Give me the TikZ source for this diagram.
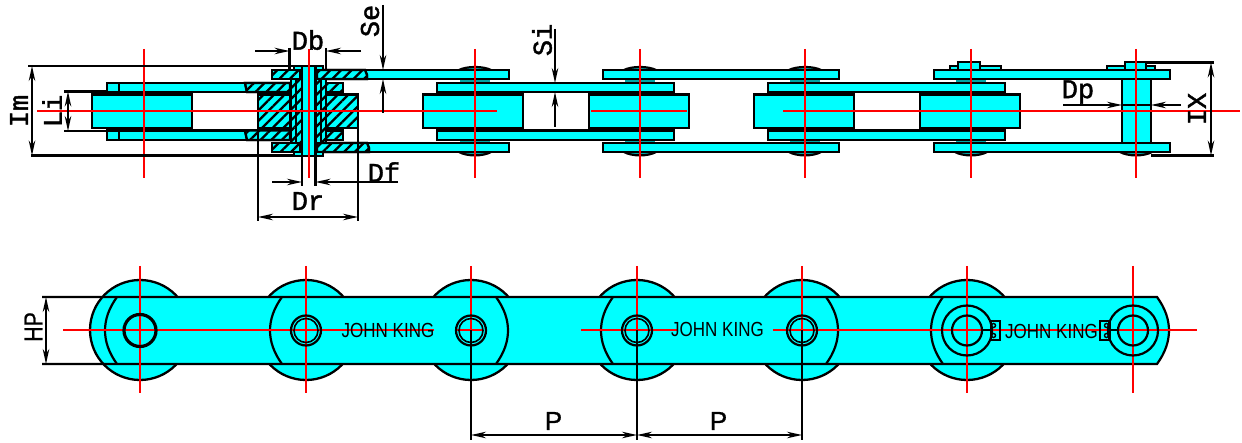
\documentclass[tikz,border=0pt]{standalone}
\usepackage{fontspec}
\setmainfont{Liberation Sans}[FakeBold=0.8]
\newfontfamily\dimfont{Liberation Mono}[FakeBold=1.5]
\newfontfamily\brandfont{Liberation Sans}
\usetikzlibrary{arrows.meta,patterns.meta}
\definecolor{pincol}{RGB}{0,165,165}
\definecolor{chain}{RGB}{0,255,255}
\tikzset{
  part/.style={draw=black,line width=2.3pt,fill=chain},
  hatch/.style={pattern={Lines[angle=45,distance=7.5pt,line width=2.3pt]},pattern color=black},
  hatched/.style={draw=black,line width=2.3pt,postaction={fill=chain},postaction={hatch},postaction={draw=black,line width=2.3pt}},
  axis/.style={draw=red,line width=2.6pt},
  ln/.style={draw=black,line width=2.2pt},
  dimarrow/.style={draw=black,line width=1.8pt,-{Stealth[length=15pt,width=6.5pt]}},
  dimboth/.style={draw=black,line width=1.8pt,{Stealth[length=15pt,width=6.5pt]}-{Stealth[length=15pt,width=6.5pt]}},
  dimtext/.style={font=\dimfont\fontsize{27}{27}\selectfont,inner sep=0pt},
  sanstext/.style={font=\fontsize{26}{26}\selectfont,inner sep=0pt},
  brand/.style={font=\brandfont\fontsize{17}{17}\selectfont,inner sep=0pt},
}
\begin{document}
\begin{tikzpicture}[x=1pt,y=-1pt]
\useasboundingbox (0,0) rectangle (1242,443);
% ---------- TOP VIEW ----------
% pin stubs and heads
\foreach \c in {475,640,805,971}{
  \fill[pincol] (\c-15,79) rectangle (\c+15,83);
  \fill[pincol] (\c-15,140) rectangle (\c+15,143);
  \fill[pincol] (\c-15,92) rectangle (\c+15,95);
  \fill[pincol] (\c-15,128) rectangle (\c+15,130);
}
\foreach \c in {475,640,805}{
  \draw[ln,fill=pincol] (\c-16,70) .. controls (\c-8,66) and (\c+8,66) .. (\c+16,70);
}
\foreach \c in {475,640,805,971,1136}{
  \draw[ln,fill=pincol] (\c-16,152) .. controls (\c-8,156.5) and (\c+8,156.5) .. (\c+16,152);
}
% inner plates
\foreach \a/\b in {107/343,437/674,768/1005}{
  \draw[part] (\a,83) rectangle (\b,92);
  \draw[part] (\a,130.5) rectangle (\b,140);
}
% rollers
\foreach \a in {92,423,589,754,920}{
  \draw[part] (\a,94.5) rectangle (\a+100,128);
}
% outer plates
\foreach \a/\b in {272/509,603/839,934/1170}{
  \draw[part] (\a,70) rectangle (\b,79);
  \draw[part] (\a,143) rectangle (\b,152);
}
% first inner plate ticks
\draw[ln] (119,83) -- (119,92);
\draw[ln] (119,130.5) -- (119,140);
% sectioned joint
\draw[hatched] (245,83) -- (290,83) -- (290,92) -- (247,92) -- cycle;
\draw[hatched] (245,130.5) -- (290,130.5) -- (290,140) -- (247,140) -- cycle;
\draw[hatched] (326,83) rectangle (343,92);
\draw[hatched] (326,130.5) rectangle (343,140);
\draw[hatched] (258,94.5) rectangle (290,128);
\draw[hatched] (326,94.5) rectangle (358,128);
\draw[hatched] (272,70) rectangle (300,79);
\draw[hatched] (272,143) rectangle (300,152);
\draw[hatched] (317,70) -- (365,70) -- (367,75) -- (367,79) -- (317,79) -- cycle;
\draw[hatched] (317,143) -- (367,143) -- (369,148) -- (369,152) -- (317,152) -- cycle;
\draw[hatched] (291,79) rectangle (302,143);
\draw[hatched] (315,79) rectangle (326,143);
\draw[ln] (296,79) -- (296,143);
\draw[ln] (321,79) -- (321,143);
\draw[part] (294,66) rectangle (323,70);
\draw[part] (294,152) rectangle (323,156);
\draw[part] (302,66) rectangle (315.5,156);
% detachable link end
\draw[part] (950,66) rectangle (1001,70);
\draw[part] (958,62) rectangle (980,70);
\draw[part] (1107,66) rectangle (1155,70);
\draw[part] (1125,62) rectangle (1146,70);
\draw[part] (1122,79) rectangle (1151,143);
\draw[ln] (1122,105) -- (1151,105);
% axes, top view
\foreach \c in {144,309,475,640,805,971,1136}{
  \draw[axis] (\c,49) -- (\c,178);
}
\draw[axis] (37,111) -- (497,111);
\draw[axis] (591,111) -- (687,111);
\draw[axis] (783,111) -- (1240,111);
% dimensions, top view
\coordinate (imA) at (32,66); \coordinate (imB) at (32,155.5);
\draw[ln] (28,66) -- (294,66);
\draw[ln] (31,155.5) -- (294,155.5);
\draw[dimboth] (imA) -- (imB);
\node[dimtext,rotate=90] (im) at (19,111) {Im};
\draw[ln] (64,91.5) -- (107,91.5);
\draw[ln] (64,131) -- (107,131);
\coordinate (liA) at (68,91.5); \coordinate (liB) at (68,131);
\draw[dimboth] (liA) -- (liB);
\node[dimtext,rotate=90] (li) at (52,111) {Li};
\draw[ln] (289.5,48) -- (289.5,70);
\draw[ln] (326,48) -- (326,70);
\coordinate (dbL) at (255,51); \coordinate (dbLe) at (289.5,51);
\coordinate (dbR) at (361,51); \coordinate (dbRe) at (326,51);
\draw[dimarrow] (dbL) -- (dbLe);
\draw[dimarrow] (dbR) -- (dbRe);
\node[dimtext] (db) at (308,40) {Db};
\coordinate (seT) at (383,5); \coordinate (seA) at (383,70);
\coordinate (seB) at (383,113); \coordinate (seC) at (383,79);
\draw[dimarrow] (seT) -- (seA);
\draw[dimarrow] (seB) -- (seC);
\node[dimtext,rotate=90] (se) at (370,21) {Se};
\coordinate (siT) at (555,29); \coordinate (siA) at (555,83);
\coordinate (siB) at (555,127); \coordinate (siC) at (555,92);
\draw[dimarrow] (siT) -- (siA);
\draw[dimarrow] (siB) -- (siC);
\node[dimtext,rotate=90] (si) at (542,40) {Si};
\draw[ln] (302,156) -- (302,186);
\draw[ln] (315.5,156) -- (315.5,186);
\coordinate (dfL) at (272,182); \coordinate (dfLe) at (302,182);
\coordinate (dfR) at (398,182); \coordinate (dfRe) at (315.5,182);
\draw[dimarrow] (dfL) -- (dfLe);
\draw[dimarrow] (dfR) -- (dfRe);
\node[dimtext] (df) at (384,172) {Df};
\draw[ln] (258,128) -- (258,221);
\draw[ln] (358,128) -- (358,221);
\coordinate (drA) at (258,217); \coordinate (drB) at (358,217);
\draw[dimboth] (drA) -- (drB);
\node[dimtext] (dr) at (308,201) {Dr};
\coordinate (dpL) at (1063,105); \coordinate (dpLe) at (1122,105);
\coordinate (dpR) at (1181,105); \coordinate (dpRe) at (1151,105);
\draw[dimarrow] (dpL) -- (dpLe);
\draw[dimarrow] (dpR) -- (dpRe);
\node[dimtext] (dp) at (1078,92) {Dp};
\draw[ln] (1146,62.5) -- (1214,62.5);
\draw[ln] (1151,155.5) -- (1214,155.5);
\coordinate (ixA) at (1211,62.5); \coordinate (ixB) at (1211,155.5);
\draw[dimboth] (ixA) -- (ixB);
\node[dimtext,rotate=90] (ix) at (1197,109) {IX};
% ---------- BOTTOM VIEW ----------
\foreach \c in {140,306,471,637,802,967}{
  \draw[part] (\c,330) circle (50);
}
\path[fill=chain] (117,297) -- (1157,297) .. controls (1173,319) and (1173,342) .. (1157,364)
   -- (117,364) .. controls (101,342) and (101,319) .. (117,297) -- cycle;
\draw[ln] (42,297) -- (1157,297) .. controls (1173,319) and (1173,342) .. (1157,364) -- (42,364);
\draw[ln] (117,297) .. controls (101,319) and (101,342) .. (117,364);
\draw[ln] (282,297) .. controls (266,319) and (266,342) .. (282,364);
\draw[ln] (613,297) .. controls (597,319) and (597,342) .. (613,364);
\draw[ln] (943,297) .. controls (927,319) and (927,342) .. (943,364);
\draw[ln] (496,297) .. controls (512,319) and (512,342) .. (496,364);
\draw[ln] (826,297) .. controls (842,319) and (842,342) .. (826,364);
% axes, bottom view
\foreach \c in {140,306,471,637,802,967,1133}{
  \draw[axis] (\c,266) -- (\c,393);
}
\draw[axis] (63,330) -- (434,330);
\draw[axis] (457,330) -- (482,330);
\draw[axis] (581,330) -- (678,330);
\draw[axis] (773,330) -- (1197,330);
% brand text
\node[brand] (jk1) at (388,330) {\scalebox{1}[1.2]{JOHN KING}};
\node[brand] (jk2) at (717.5,329) {\scalebox{1}[1.2]{JOHN KING}};
\node[brand] (jk3) at (1051.5,331) {\scalebox{1}[1.2]{JOHN KING}};
% holes
\draw[line width=3.2pt] (140,330.5) circle (16);
\foreach \c in {306,471,637,802}{
  \draw[ln] (\c,330.5) circle (15);
  \draw[line width=1.6pt] (\c,330.5) circle (12);
}
\foreach \c in {967,1133}{
  \draw[ln] (\c,330.5) circle (25);
  \draw[ln] (\c,330.5) circle (15);
}
% clips
\draw[ln] (991,321) rectangle (1000,340);
\draw[ln] (1100,321) rectangle (1109.5,340);
\draw[line width=2.6pt] (982,330) -- (991,330);
\draw[line width=2.6pt] (1109.5,330) -- (1118,330);
\foreach \p in {(993.5,325.5),(993.5,335.5),(1106.5,325.5),(1106.5,335.5)}{
  \draw[line width=1.4pt] \p circle (2);
}
% dimensions, bottom view
\coordinate (hpA) at (46,297); \coordinate (hpB) at (46,364);
\draw[dimboth] (hpA) -- (hpB);
\node[sanstext,rotate=90] (hp) at (33.5,327) {\scalebox{0.82}[1]{HP}};
\draw[line width=1.9pt] (471,330) -- (471,440);
\draw[line width=1.9pt] (637,330) -- (637,440);
\draw[line width=1.9pt] (802,330) -- (802,440);
\coordinate (p1) at (471,435); \coordinate (p2) at (637,435); \coordinate (p3) at (802,435);
\draw[dimboth] (p1) -- (p2);
\draw[dimboth] (p2) -- (p3);
\node[sanstext] (pa) at (553.5,421) {P};
\node[sanstext] (pb) at (718.5,421) {P};
\end{tikzpicture}
\end{document}
